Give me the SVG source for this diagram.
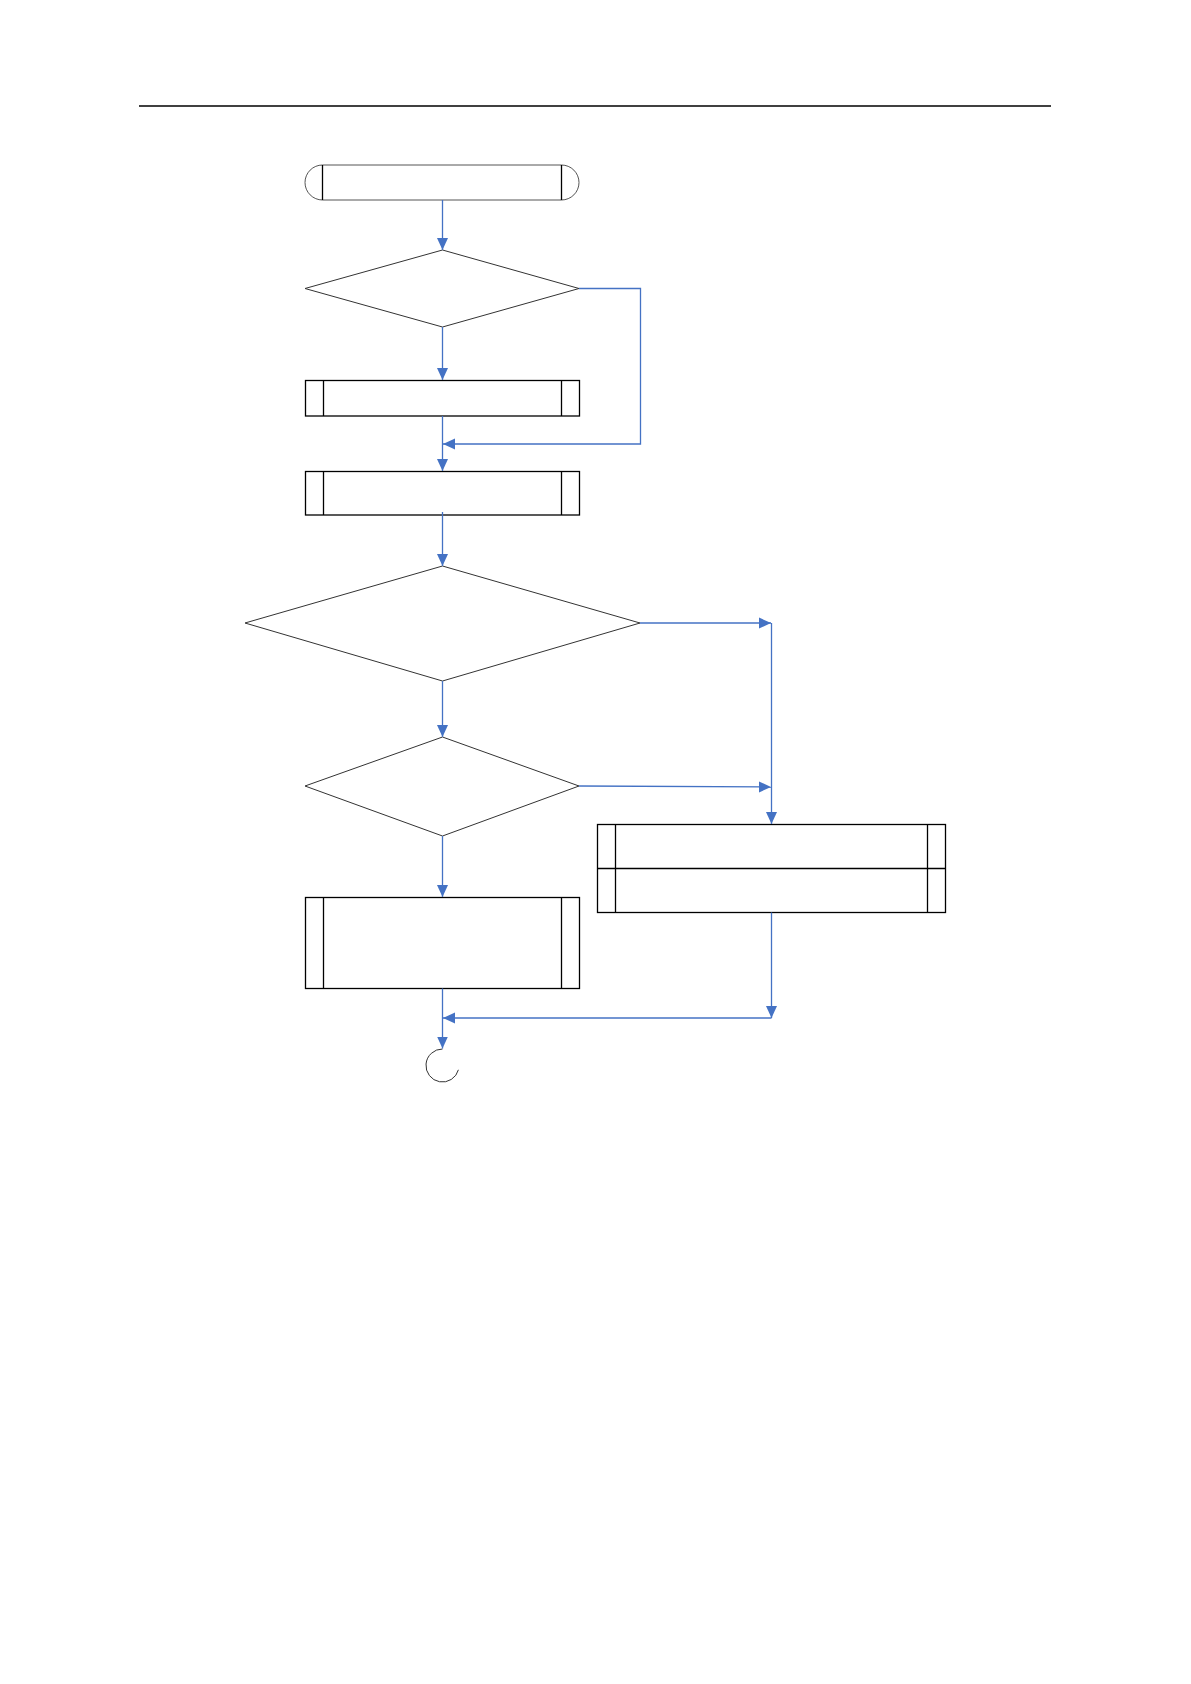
<svg xmlns="http://www.w3.org/2000/svg" width="1191" height="1684" viewBox="0 0 1191 1684">
<style>
.box{fill:#fff;stroke:#000;stroke-width:1.3}
.in{stroke:#000;stroke-width:1.3;fill:none}
.dia{fill:#fff;stroke:#333;stroke-width:1}
.term{fill:#fff;stroke:#555;stroke-width:1}
.con{fill:none;stroke:#4472C4;stroke-width:1.3}
.arr{marker-end:url(#ah)}
</style>
<defs>
<marker id="ah" markerUnits="userSpaceOnUse" markerWidth="12" markerHeight="12" refX="12" refY="6" orient="auto">
<path d="M0,0.5 L12,6 L0,11.5 z" fill="#4472C4"/>
</marker>
</defs>
<rect width="1191" height="1684" fill="#fff"/>
<line x1="139" y1="106" x2="1051" y2="106" stroke="#000" stroke-width="1.3"/>

<g id="start">
<path class="term" d="M322.5,165 L561.5,165 A17.5,17.5 0 0 1 561.5,200 L322.5,200 A17.5,17.5 0 0 1 322.5,165 z"/>
<line class="in" x1="322.5" y1="165" x2="322.5" y2="200"/>
<line class="in" x1="561.5" y1="165" x2="561.5" y2="200"/>
</g>
<g id="decision1"><polygon class="dia" points="442.5,250 579,288.5 442.5,327 305,288.5"/></g>
<g id="process1">
<rect class="box" x="305.5" y="380.5" width="274" height="35.5"/>
<line class="in" x1="323.5" y1="380.5" x2="323.5" y2="416"/>
<line class="in" x1="561.5" y1="380.5" x2="561.5" y2="416"/>
</g>
<g id="process2">
<rect class="box" x="305.5" y="471.5" width="274" height="43.5"/>
<line class="in" x1="323.5" y1="471.5" x2="323.5" y2="515"/>
<line class="in" x1="561.5" y1="471.5" x2="561.5" y2="515"/>
</g>
<g id="decision2"><polygon class="dia" points="442.5,566 640,623 442.5,681 245,623"/></g>
<g id="decision3"><polygon class="dia" points="442.5,737 579,786 442.5,836 305,786"/></g>
<g id="process3">
<rect class="box" x="597.5" y="824.5" width="348" height="88"/>
<line class="in" x1="597.5" y1="868.5" x2="945.5" y2="868.5"/>
<line class="in" x1="615.5" y1="824.5" x2="615.5" y2="912.5"/>
<line class="in" x1="927.5" y1="824.5" x2="927.5" y2="912.5"/>
</g>
<g id="process4">
<rect class="box" x="305.5" y="897.5" width="274" height="91"/>
<line class="in" x1="323.5" y1="897.5" x2="323.5" y2="988.5"/>
<line class="in" x1="561.5" y1="897.5" x2="561.5" y2="988.5"/>
</g>
<g id="end"><path d="M442.5,1049 A16.5,16.5 0 1 0 458.4,1069.8" fill="none" stroke="#333" stroke-width="1"/></g>

<g id="connectors">
<line class="con arr" x1="442.5" y1="200" x2="442.5" y2="250"/>
<line class="con arr" x1="442.5" y1="327" x2="442.5" y2="380"/>
<polyline class="con arr" points="579,288.5 640.5,288.5 640.5,444 443,444"/>
<line class="con arr" x1="442.5" y1="416" x2="442.5" y2="471"/>
<line class="con arr" x1="442.5" y1="512" x2="442.5" y2="566"/>
<line class="con arr" x1="442.5" y1="681" x2="442.5" y2="737"/>
<line class="con arr" x1="640" y1="623" x2="771" y2="623"/>
<line class="con arr" x1="771.5" y1="623" x2="771.5" y2="824"/>
<line class="con arr" x1="579" y1="786" x2="771" y2="787"/>
<line class="con arr" x1="442.5" y1="836" x2="442.5" y2="897"/>
<line class="con arr" x1="771.5" y1="912.5" x2="771.5" y2="1018"/>
<line class="con arr" x1="771.5" y1="1018" x2="443" y2="1018"/>
<line class="con arr" x1="442.5" y1="988.5" x2="442.5" y2="1048.5"/>
</g>
</svg>
